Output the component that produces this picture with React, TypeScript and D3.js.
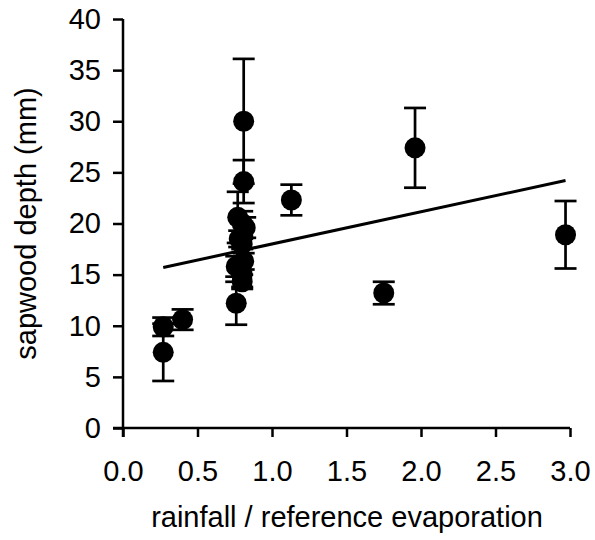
import { useEffect, useRef } from 'react'
import * as d3 from 'd3'

// rainfall / reference evaporation
const ratio = [0.27, 0.27, 0.40, 0.81, 0.81, 0.77, 0.80, 0.82, 0.78, 0.80, 0.81, 0.76, 0.80, 0.80, 0.76, 1.13, 1.75, 1.96, 2.97]
// sapwood depth (mm)
const depth = [9.9, 7.4, 10.6, 30.0, 24.1, 20.6, 20.0, 19.6, 18.5, 18.0, 16.3, 15.8, 15.0, 14.3, 12.2, 22.3, 13.2, 27.4, 18.9]
// error bar half-widths (mm)
const err = [0.9, 2.8, 1.0, 6.1, 2.1, 2.5, 1.2, 1.0, 0.8, 0.5, 0.8, 1.0, 1.2, 0.7, 2.1, 1.5, 1.1, 3.9, 3.3]

// linear fit
const fitIntercept = 14.85
const fitSlope = 3.15
const fitRange = [0.27, 2.97]

const xTicks = [0, 0.5, 1, 1.5, 2, 2.5, 3]
const yTicks = [0, 5, 10, 15, 20, 25, 30, 35, 40]

export default function App() {
  const svgRef = useRef<SVGSVGElement>(null)
  const width = 595
  const height = 540

  useEffect(() => {
    if (!svgRef.current) return
    const svg = d3.select(svgRef.current)
    svg.selectAll('*').remove()

    const font = 'Liberation Sans, Arial, sans-serif'
    const fs = 29
    const x = d3.scaleLinear().domain([0, 3]).range([123, 570])
    const y = d3.scaleLinear().domain([0, 40]).range([428, 19])

    // Y axis
    const yAxis = svg.append('g')
      .attr('transform', `translate(${x(0)},0)`)
      .call(d3.axisLeft(y).tickValues(yTicks).tickSize(10).tickPadding(12).tickFormat(d3.format('d')))
    // X axis
    const xAxis = svg.append('g')
      .attr('transform', `translate(0,${y(0)})`)
      .call(d3.axisBottom(x).tickValues(xTicks).tickSize(9).tickPadding(23).tickFormat(d3.format('.1f')))

    for (const ax of [xAxis, yAxis]) {
      ax.attr('font-size', fs).attr('font-family', font)
      ax.select('.domain').attr('stroke', '#000').attr('stroke-width', 2.5)
      ax.selectAll('.tick line').attr('stroke', '#000').attr('stroke-width', 2.5)
      ax.selectAll('text').attr('fill', '#000').attr('font-size', fs).attr('font-family', font)
    }
    yAxis.select('.domain').attr('d', `M0,${y(0) + 9}V${y(40)}`)
    xAxis.select('.domain').attr('d', `M${x(0) - 10},0H${x(3)}`)

    // error bars
    const cap = 11
    ratio.forEach((rx, i) => {
      const cx = x(rx)
      const top = y(depth[i] + err[i])
      const bot = y(depth[i] - err[i])
      const g = svg.append('g').attr('stroke', '#000').attr('stroke-width', 2.7)
      g.append('line').attr('x1', cx).attr('x2', cx).attr('y1', top).attr('y2', bot)
      g.append('line').attr('x1', cx - cap).attr('x2', cx + cap).attr('y1', top).attr('y2', top)
      g.append('line').attr('x1', cx - cap).attr('x2', cx + cap).attr('y1', bot).attr('y2', bot)
    })

    // points
    ratio.forEach((rx, i) => {
      svg.append('circle')
        .attr('cx', x(rx))
        .attr('cy', y(depth[i]))
        .attr('r', 10.5)
        .attr('fill', '#000')
    })

    // fit line
    svg.append('line')
      .attr('x1', x(fitRange[0])).attr('y1', y(fitIntercept + fitSlope * fitRange[0]))
      .attr('x2', x(fitRange[1])).attr('y2', y(fitIntercept + fitSlope * fitRange[1]))
      .attr('stroke', '#000').attr('stroke-width', 3)

    // axis titles
    svg.append('text')
      .attr('x', 347).attr('y', 527)
      .attr('text-anchor', 'middle')
      .attr('font-size', fs).attr('font-family', font)
      .text('rainfall / reference evaporation')
    svg.append('text')
      .attr('transform', `translate(36,${y(20)}) rotate(-90)`)
      .attr('text-anchor', 'middle')
      .attr('font-size', fs).attr('font-family', font)
      .text('sapwood depth (mm)')
  }, [])

  return (
    <svg ref={svgRef} width={width} height={height}
      style={{ position: 'absolute', left: 0, top: 0, background: '#fff' }} />
  )
}
